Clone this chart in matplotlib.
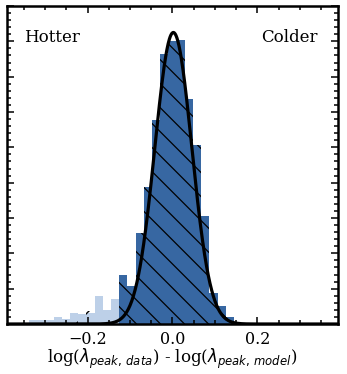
import numpy as np
import matplotlib
matplotlib.use("Agg")
import matplotlib.pyplot as plt
from matplotlib.ticker import MultipleLocator
from matplotlib.path import Path
from matplotlib.patches import PathPatch
from matplotlib.collections import LineCollection
import matplotlib.transforms as mtrans

plt.rcParams['font.family'] = ['DejaVu Serif']
plt.rcParams['mathtext.fontset'] = 'dejavusans'
plt.rcParams['hatch.linewidth'] = 1.0

# ---- data ----
bin_width = 0.0193
# light (full sample, left tail) histogram
light_start = -0.3378
light_counts = [0.10, 0.10, 0.10, 0.20, 0.15, 0.30, 0.28, 0.32, 0.79, 0.41, 0.70]
# dark (selected sample) histogram
dark_start = -0.1255
dark_counts = [1.38, 1.08, 2.58, 3.87, 5.77, 7.64, 8.00, 8.05, 6.36, 5.07, 3.07, 0.88, 0.50, 0.19]
# small hatched-only bins in the light tail
tail_hatch_start = -0.2413
tail_hatch_counts = [0.30, 0.0, 0.37, 0.37]
# gaussian fit
g_amp, g_mu, g_sigma = 8.25, 0.002, 0.0435

x_ticks = [-0.2, 0.0, 0.2]
x_ticklabels = ['\u22120.2', '0.0', '0.2']

light_color = '#bdd0e8'
dark_color = '#3767a2'

fig = plt.figure(figsize=(3.47, 3.74), dpi=100)
ax = fig.add_axes([0.0202, 0.1337, 0.9538, 0.8503])
ax.set_xlim(-0.39, 0.39)
ax.set_ylim(0, 9.0)

light_edges = light_start + bin_width * np.arange(len(light_counts))
ax.bar(light_edges, light_counts, width=bin_width, align='edge',
       color=light_color, linewidth=0)
th_edges = tail_hatch_start + bin_width * np.arange(len(tail_hatch_counts))
ax.bar(th_edges, tail_hatch_counts, width=bin_width, align='edge',
       fill=False, hatch='/', linewidth=0, edgecolor='black')
dark_edges = dark_start + bin_width * np.arange(len(dark_counts))
bars = ax.bar(dark_edges, dark_counts, width=bin_width, align='edge',
              color=dark_color, linewidth=0)

# hatch lines for dark bars, clipped to the bar outlines
verts, codes = [], []
for r in bars:
    x0, y0, w, h = r.get_x(), r.get_y(), r.get_width(), r.get_height()
    verts += [(x0, y0), (x0 + w, y0), (x0 + w, y0 + h), (x0, y0 + h), (x0, y0)]
    codes += [Path.MOVETO, Path.LINETO, Path.LINETO, Path.LINETO, Path.CLOSEPOLY]
clip = PathPatch(Path(verts, codes), transform=ax.transData,
                 facecolor='none', edgecolor='none')
ax.add_patch(clip)
base_px = ax.transData.transform((0.0, 0.0))
spacing = 24.0
segs = []
for k in range(-30, 30):
    xb = base_px[0] + 12 + k * spacing
    segs.append([(xb - 500, base_px[1] + 500), (xb + 60, base_px[1] - 60)])
lc = LineCollection(segs, colors='black', linewidths=0.9,
                    transform=mtrans.IdentityTransform(), zorder=2.5)
lc.set_clip_path(clip)
ax.add_collection(lc, autolim=False)

xx = np.linspace(-0.39, 0.39, 800)
ax.plot(xx, g_amp * np.exp(-(xx - g_mu) ** 2 / (2 * g_sigma ** 2)),
        color='black', lw=2.3, zorder=3)

ax.set_xlim(-0.39, 0.39)
ax.set_ylim(0, 9.0)
ax.set_xticks(x_ticks)
ax.set_xticklabels(x_ticklabels)
ax.xaxis.set_minor_locator(MultipleLocator(0.05))
ax.yaxis.set_major_locator(MultipleLocator(1))
ax.yaxis.set_minor_locator(MultipleLocator(0.2))
ax.tick_params(which='both', direction='in', top=True, right=True,
               labelleft=False, width=1.1)
ax.tick_params(which='major', length=5, labelsize=11.5, pad=5)
ax.tick_params(which='minor', length=2.8)
for s in ax.spines.values():
    s.set_linewidth(1.8)

ax.set_xlabel(r'log($\lambda_{peak,\,data}$) - log($\lambda_{peak,\,model}$)',
              fontsize=12, labelpad=-1)

ax.text(0.05, 0.90, 'Hotter', transform=ax.transAxes, fontsize=12,
        ha='left', va='center')
ax.text(0.94, 0.90, 'Colder', transform=ax.transAxes, fontsize=12,
        ha='right', va='center')

fig.savefig('out.png', dpi=100)
